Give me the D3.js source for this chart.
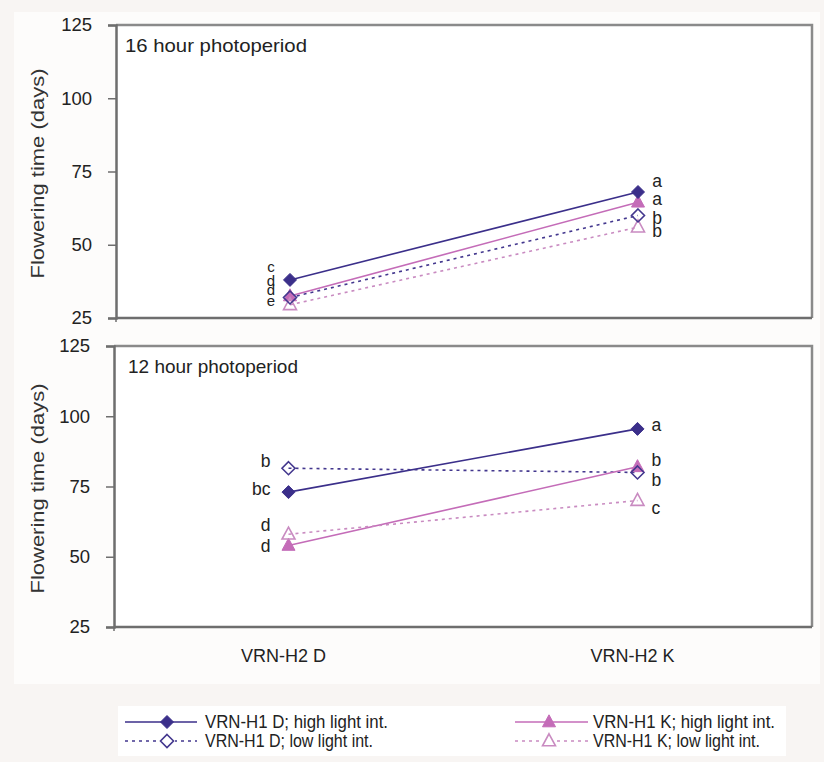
<!DOCTYPE html>
<html>
<head>
<meta charset="utf-8">
<script src="https://cdn.jsdelivr.net/npm/d3@7"></script>
<style>
  html, body { margin: 0; padding: 0; background: #f8f5f3; }
  svg { display: block; }
  text { font-family: "Liberation Sans", Arial, sans-serif; fill: #222; }
</style>
</head>
<body>
<svg id="chart" width="824" height="762"></svg>
<script>
// ---- data ----
const categories = ["VRN-H2 D", "VRN-H2 K"];
const yTicks = [25, 50, 75, 100, 125];
const seriesNames = [
  "VRN-H1 D; high light int.",
  "VRN-H1 D; low light int.",
  "VRN-H1 K; high light int.",
  "VRN-H1 K; low light int."
];
const panelTitles = ["16 hour photoperiod", "12 hour photoperiod"];
const values16h = [[38, 68], [32, 60], [32.5, 64.5], [29.5, 56]];
const values12h = [[73, 95.5], [81.5, 80], [54, 82], [58, 70]];
const letters16h = [["c", "a"], ["d", "b"], ["d", "a"], ["e", "b"]];
const letters12h = [["bc", "a"], ["b", "b"], ["d", "b"], ["d", "c"]];
const yTitle = "Flowering time (days)";

// ---- styles / layout ----
const seriesStyle = [
  { color: "#3b2f8a", dash: null, marker: "diamond", filled: true },
  { color: "#43378e", dash: "3,4", marker: "diamond", filled: false },
  { color: "#c46cb8", dash: null, marker: "triangle", filled: true },
  { color: "#c98bc1", dash: "3,4", marker: "triangle", filled: false }
];
const panels = [
  { top: 25, bottom: 318, left: 116, right: 812, values: values16h, letters: letters16h,
    title: panelTitles[0], titleX: 125, titleY: 52, titleLen: 182,
    // label offsets [series][category] = [dx, dy, anchor]
    offs: [
      [[-19, -13, "middle"], [19, -11.5, "middle"]],
      [[-19, -17, "middle"], [19, 2.5, "middle"]],
      [[-19, -6, "middle"], [19, -3, "middle"]],
      [[-19, -4, "middle"], [19, 4, "middle"]]
    ] },
  { top: 346, bottom: 627, left: 114, right: 812, values: values12h, letters: letters12h,
    title: panelTitles[1], titleX: 128, titleY: 373, titleLen: 170,
    offs: [
      [[-18, -3, "end"], [14, -4, "start"]],
      [[-18, -7.5, "end"], [14, 7.5, "start"]],
      [[-18, 0, "end"], [14, -7, "start"]],
      [[-18, -9, "end"], [14, 7.5, "start"]]
    ] }
];

const svg = d3.select("#chart");

// white backdrop areas
svg.append("rect").attr("x", 14).attr("y", 12).attr("width", 806).attr("height", 672).attr("fill", "#fdfcfb");
svg.append("rect").attr("x", 118).attr("y", 706).attr("width", 668).attr("height", 50).attr("fill", "#ffffff");

function markerPath(type) {
  if (type === "diamond") {
    const r = 6.5;
    return `M0,${-r}L${r},0L0,${r}L${-r},0Z`;
  }
  const w = 6.5, h = 12;
  return `M0,${-h * 0.6}L${w},${h * 0.4}L${-w},${h * 0.4}Z`;
}

panels.forEach((p, pi) => {
  const g = svg.append("g");
  const x = d3.scalePoint().domain(categories).range([p.left, p.right]).padding(0.5);
  const y = d3.scaleLinear().domain([25, 125]).range([p.bottom, p.top]);

  g.append("rect").attr("x", p.left).attr("y", p.top)
    .attr("width", p.right - p.left).attr("height", p.bottom - p.top)
    .attr("fill", "#ffffff");
  // frame top/right
  g.append("path")
    .attr("d", `M${p.left},${p.top}H${p.right}V${p.bottom}`)
    .attr("fill", "none").attr("stroke", "#8a8a8a").attr("stroke-width", 2.5);

  // y axis
  const yAxis = d3.axisLeft(y).tickValues(yTicks).tickSize(8).tickPadding(6);
  const ya = g.append("g").attr("transform", `translate(${p.left},0)`).call(yAxis);
  ya.attr("font-size", null).attr("font-family", null);
  ya.select(".domain").attr("stroke", "#6e6e6e").attr("stroke-width", 2.5);
  ya.selectAll(".tick line").attr("stroke", "#6e6e6e").attr("stroke-width", 1.5);
  ya.selectAll(".tick text")
    .style("font-size", "18.5px")
    .style("font-family", "'Liberation Sans', Arial, sans-serif")
    .style("fill", "#222")
    .attr("x", -24);

  // x axis (bottom line)
  const xAxis = d3.axisBottom(x).tickSize(0).tickFormat("");
  const xa = g.append("g").attr("transform", `translate(0,${p.bottom})`).call(xAxis);
  xa.select(".domain").attr("stroke", "#6e6e6e").attr("stroke-width", 2.5)
    .attr("d", `M${p.left},0H${p.right}`);
  g.append("line").attr("x1", p.left).attr("x2", p.left).attr("y1", p.bottom).attr("y2", p.bottom + 4)
    .attr("stroke", "#6e6e6e").attr("stroke-width", 1.5);

  // y title
  g.append("text")
    .attr("transform", `translate(44,${(p.top + p.bottom) / 2 + 2}) rotate(-90)`)
    .attr("text-anchor", "middle")
    .style("font-size", "17.5px")
    .style("fill", "#333")
    .attr("textLength", 210).attr("lengthAdjust", "spacingAndGlyphs")
    .text(yTitle);

  // panel title
  g.append("text").attr("x", p.titleX).attr("y", p.titleY)
    .style("font-size", "19px").attr("textLength", p.titleLen).attr("lengthAdjust", "spacingAndGlyphs")
    .text(p.title);

  // lines
  const line = d3.line().x((d, i) => x(categories[i])).y(d => y(d));
  p.values.forEach((vals, si) => {
    const st = seriesStyle[si];
    g.append("path").datum(vals).attr("d", line)
      .attr("fill", "none").attr("stroke", st.color).attr("stroke-width", 1.6)
      .attr("stroke-dasharray", st.dash);
  });
  // markers: filled first, then open
  const order = [2, 0, 3, 1];
  order.forEach(si => {
    const st = seriesStyle[si];
    g.selectAll(null).data(p.values[si]).enter().append("path")
      .attr("transform", (d, i) => `translate(${x(categories[i])},${y(d)})`)
      .attr("d", markerPath(st.marker))
      .attr("fill", st.filled ? st.color : "none")
      .attr("stroke", st.color).attr("stroke-width", st.filled ? 1 : 1.6);
  });
  // letters
  p.values.forEach((vals, si) => {
    vals.forEach((v, ci) => {
      const o = p.offs[si][ci];
      g.append("text")
        .attr("x", x(categories[ci]) + o[0])
        .attr("y", y(v) + o[1])
        .attr("dy", "0.35em")
        .attr("text-anchor", o[2])
        .style("font-size", pi === 0 && ci === 0 ? "15px" : "17.5px")
        .text(p.letters[si][ci]);
    });
  });

  // category labels on bottom panel
  if (pi === 1) {
    categories.forEach(c => {
      g.append("text").attr("x", x(c) - 5).attr("y", 662)
        .attr("text-anchor", "middle").style("font-size", "18px").text(c);
    });
  }
});

// legend
const legendPos = [
  { x0: 125, x1: 197, mx: 167, tx: 205, y: 722 },
  { x0: 125, x1: 197, mx: 167, tx: 205, y: 741 },
  { x0: 515, x1: 588, mx: 549, tx: 593, y: 722 },
  { x0: 515, x1: 588, mx: 549, tx: 593, y: 741 }
];
const legendTextLen = [183, 168, 182, 167];
const lg = svg.append("g");
seriesNames.forEach((name, si) => {
  const st = seriesStyle[si], lp = legendPos[si];
  lg.append("line").attr("x1", lp.x0).attr("x2", lp.x1).attr("y1", lp.y).attr("y2", lp.y)
    .attr("stroke", st.color).attr("stroke-width", 1.6).attr("stroke-dasharray", st.dash);
  if (!st.filled) {
    lg.append("rect").attr("x", lp.mx - 8).attr("y", lp.y - 8).attr("width", 16).attr("height", 16).attr("fill", "#fff");
  }
  lg.append("path").attr("transform", `translate(${lp.mx},${lp.y})`)
    .attr("d", markerPath(st.marker))
    .attr("fill", st.filled ? st.color : "#fff")
    .attr("stroke", st.color).attr("stroke-width", st.filled ? 1 : 1.6);
  lg.append("text").attr("x", lp.tx).attr("y", lp.y).attr("dy", "0.36em")
    .style("font-size", "18px")
    .style("font-family", "'Liberation Sans Narrow', 'Liberation Sans', Arial, sans-serif")
    .attr("textLength", legendTextLen[si]).attr("lengthAdjust", "spacingAndGlyphs")
    .text(name);
});
</script>
</body>
</html>
